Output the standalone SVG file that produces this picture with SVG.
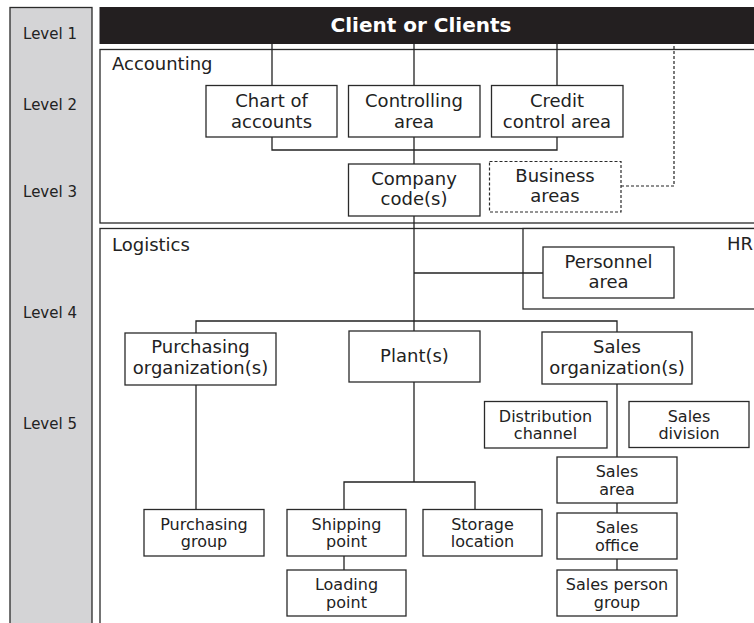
<svg xmlns="http://www.w3.org/2000/svg" width="754" height="623" viewBox="0 0 754 623">
  <style>
    .frame { fill: #ffffff; stroke: #2a2a2a; stroke-width: 1.3; }
    .box { fill: #ffffff; stroke: #2a2a2a; stroke-width: 1.3; }
    .dashed { fill: #ffffff; stroke: #2a2a2a; stroke-width: 1.2; stroke-dasharray: 3 2; }
    .wire { fill: none; stroke: #222222; stroke-width: 1.3; }
    .dot { fill: none; stroke: #222222; stroke-width: 1.2; stroke-dasharray: 3 2; }
    text { font-family: "DejaVu Sans", "Liberation Sans", sans-serif; fill: #222222; }
    .lvl { font-size: 15px; text-anchor: middle; }
    .sec { font-size: 18px; }
    .m { font-size: 18px; text-anchor: middle; }
    .s { font-size: 16px; text-anchor: middle; }
    .title { font-size: 20px; font-weight: bold; fill: #ffffff; text-anchor: middle; }
  </style>

  <!-- level ruler on the left -->
  <g id="levels">
    <rect x="10" y="7.5" width="82" height="630" fill="#d4d4d6" stroke="#2a2a2a" stroke-width="1.3"/>
    <text class="lvl" x="50" y="39">Level 1</text>
    <text class="lvl" x="50" y="110">Level 2</text>
    <text class="lvl" x="50" y="197">Level 3</text>
    <text class="lvl" x="50" y="318">Level 4</text>
    <text class="lvl" x="50" y="429">Level 5</text>
  </g>

  <!-- top bar -->
  <g id="client">
    <rect x="100" y="7.5" width="670" height="36" fill="#231f20" stroke="#231f20" stroke-width="1"/>
    <text class="title" x="421" y="32">Client or Clients</text>
  </g>

  <!-- section frames -->
  <g id="accounting">
    <rect class="frame" x="100" y="49.5" width="670" height="173.5"/>
    <text class="sec" x="112" y="70">Accounting</text>
  </g>
  <g id="logistics">
    <rect class="frame" x="100" y="228.5" width="670" height="420"/>
    <text class="sec" x="112" y="251">Logistics</text>
  </g>
  <g id="hr">
    <rect class="frame" x="523" y="228.5" width="250" height="80.5"/>
    <text class="sec" x="753" y="250" text-anchor="end">HR</text>
  </g>

  <!-- connectors -->
  <g id="connectors">
    <path class="wire" d="M272 43.5V85.5M414 43.5V85.5M557 43.5V85.5"/>
    <path class="wire" d="M272 137V150H557V137M414 137V164"/>
    <path class="wire" d="M414 216V331"/>
    <path class="wire" d="M414 273H543"/>
    <path class="wire" d="M196 333V321H617V332"/>
    <path class="wire" d="M196 385V509"/>
    <path class="wire" d="M414 382V482M344 509V482H475V509M344 556V570"/>
    <path class="wire" d="M617 384V457M617 503V513M617 559V570"/>
    <path class="dot" d="M621 186H674V43.5"/>
  </g>

  <!-- level 2 -->
  <g id="chart-of-accounts">
    <rect class="box" x="206" y="85.5" width="131" height="51.5"/>
    <text class="m" x="271.5" y="106.5">Chart of</text>
    <text class="m" x="271.5" y="127.5">accounts</text>
  </g>
  <g id="controlling-area">
    <rect class="box" x="348.5" y="85.5" width="131.5" height="51.5"/>
    <text class="m" x="414" y="107">Controlling</text>
    <text class="m" x="414" y="127.5">area</text>
  </g>
  <g id="credit-control-area">
    <rect class="box" x="491.5" y="85.5" width="131.5" height="51.5"/>
    <text class="m" x="557" y="107">Credit</text>
    <text class="m" x="557" y="127.5">control area</text>
  </g>

  <!-- level 3 -->
  <g id="company-code">
    <rect class="box" x="348.5" y="164" width="131.5" height="52"/>
    <text class="m" x="414" y="185">Company</text>
    <text class="m" x="414" y="205">code(s)</text>
  </g>
  <g id="business-areas">
    <rect class="dashed" x="489.5" y="161.5" width="131.5" height="50.5"/>
    <text class="m" x="555" y="182">Business</text>
    <text class="m" x="555" y="202">areas</text>
  </g>

  <!-- level 4 -->
  <g id="personnel-area">
    <rect class="box" x="543" y="247" width="131" height="51"/>
    <text class="m" x="608.5" y="268">Personnel</text>
    <text class="m" x="608.5" y="288">area</text>
  </g>
  <g id="purchasing-organization">
    <rect class="box" x="125" y="333" width="151" height="52"/>
    <text class="m" x="200.5" y="353">Purchasing</text>
    <text class="m" x="200.5" y="374">organization(s)</text>
  </g>
  <g id="plant">
    <rect class="box" x="349" y="331" width="131" height="51"/>
    <text class="m" x="414.5" y="362">Plant(s)</text>
  </g>
  <g id="sales-organization">
    <rect class="box" x="542" y="332" width="150" height="52"/>
    <text class="m" x="617" y="352.5">Sales</text>
    <text class="m" x="617" y="374">organization(s)</text>
  </g>

  <!-- level 5 -->
  <g id="distribution-channel">
    <rect class="box" x="484.5" y="401.5" width="122.5" height="46.5"/>
    <text class="s" x="545.5" y="421.5">Distribution</text>
    <text class="s" x="545.5" y="439">channel</text>
  </g>
  <g id="sales-division">
    <rect class="box" x="629" y="401.5" width="120" height="46"/>
    <text class="s" x="689" y="421.5">Sales</text>
    <text class="s" x="689" y="439">division</text>
  </g>
  <g id="sales-area">
    <rect class="box" x="557" y="457" width="120" height="46"/>
    <text class="s" x="617" y="477">Sales</text>
    <text class="s" x="617" y="494.5">area</text>
  </g>
  <g id="sales-office">
    <rect class="box" x="557" y="513" width="120" height="46"/>
    <text class="s" x="617" y="533">Sales</text>
    <text class="s" x="617" y="550.5">office</text>
  </g>
  <g id="sales-person-group">
    <rect class="box" x="557" y="570" width="120" height="46"/>
    <text class="s" x="617" y="590">Sales person</text>
    <text class="s" x="617" y="607.5">group</text>
  </g>
  <g id="purchasing-group">
    <rect class="box" x="144" y="509.5" width="120" height="46.5"/>
    <text class="s" x="204" y="529.5">Purchasing</text>
    <text class="s" x="204" y="547">group</text>
  </g>
  <g id="shipping-point">
    <rect class="box" x="287" y="509.5" width="119" height="46.5"/>
    <text class="s" x="346.5" y="529.5">Shipping</text>
    <text class="s" x="346.5" y="547">point</text>
  </g>
  <g id="storage-location">
    <rect class="box" x="423" y="509.5" width="119" height="46.5"/>
    <text class="s" x="482.5" y="529.5">Storage</text>
    <text class="s" x="482.5" y="547">location</text>
  </g>
  <g id="loading-point">
    <rect class="box" x="287" y="570" width="119" height="46"/>
    <text class="s" x="346.5" y="590">Loading</text>
    <text class="s" x="346.5" y="607.5">point</text>
  </g>
</svg>
